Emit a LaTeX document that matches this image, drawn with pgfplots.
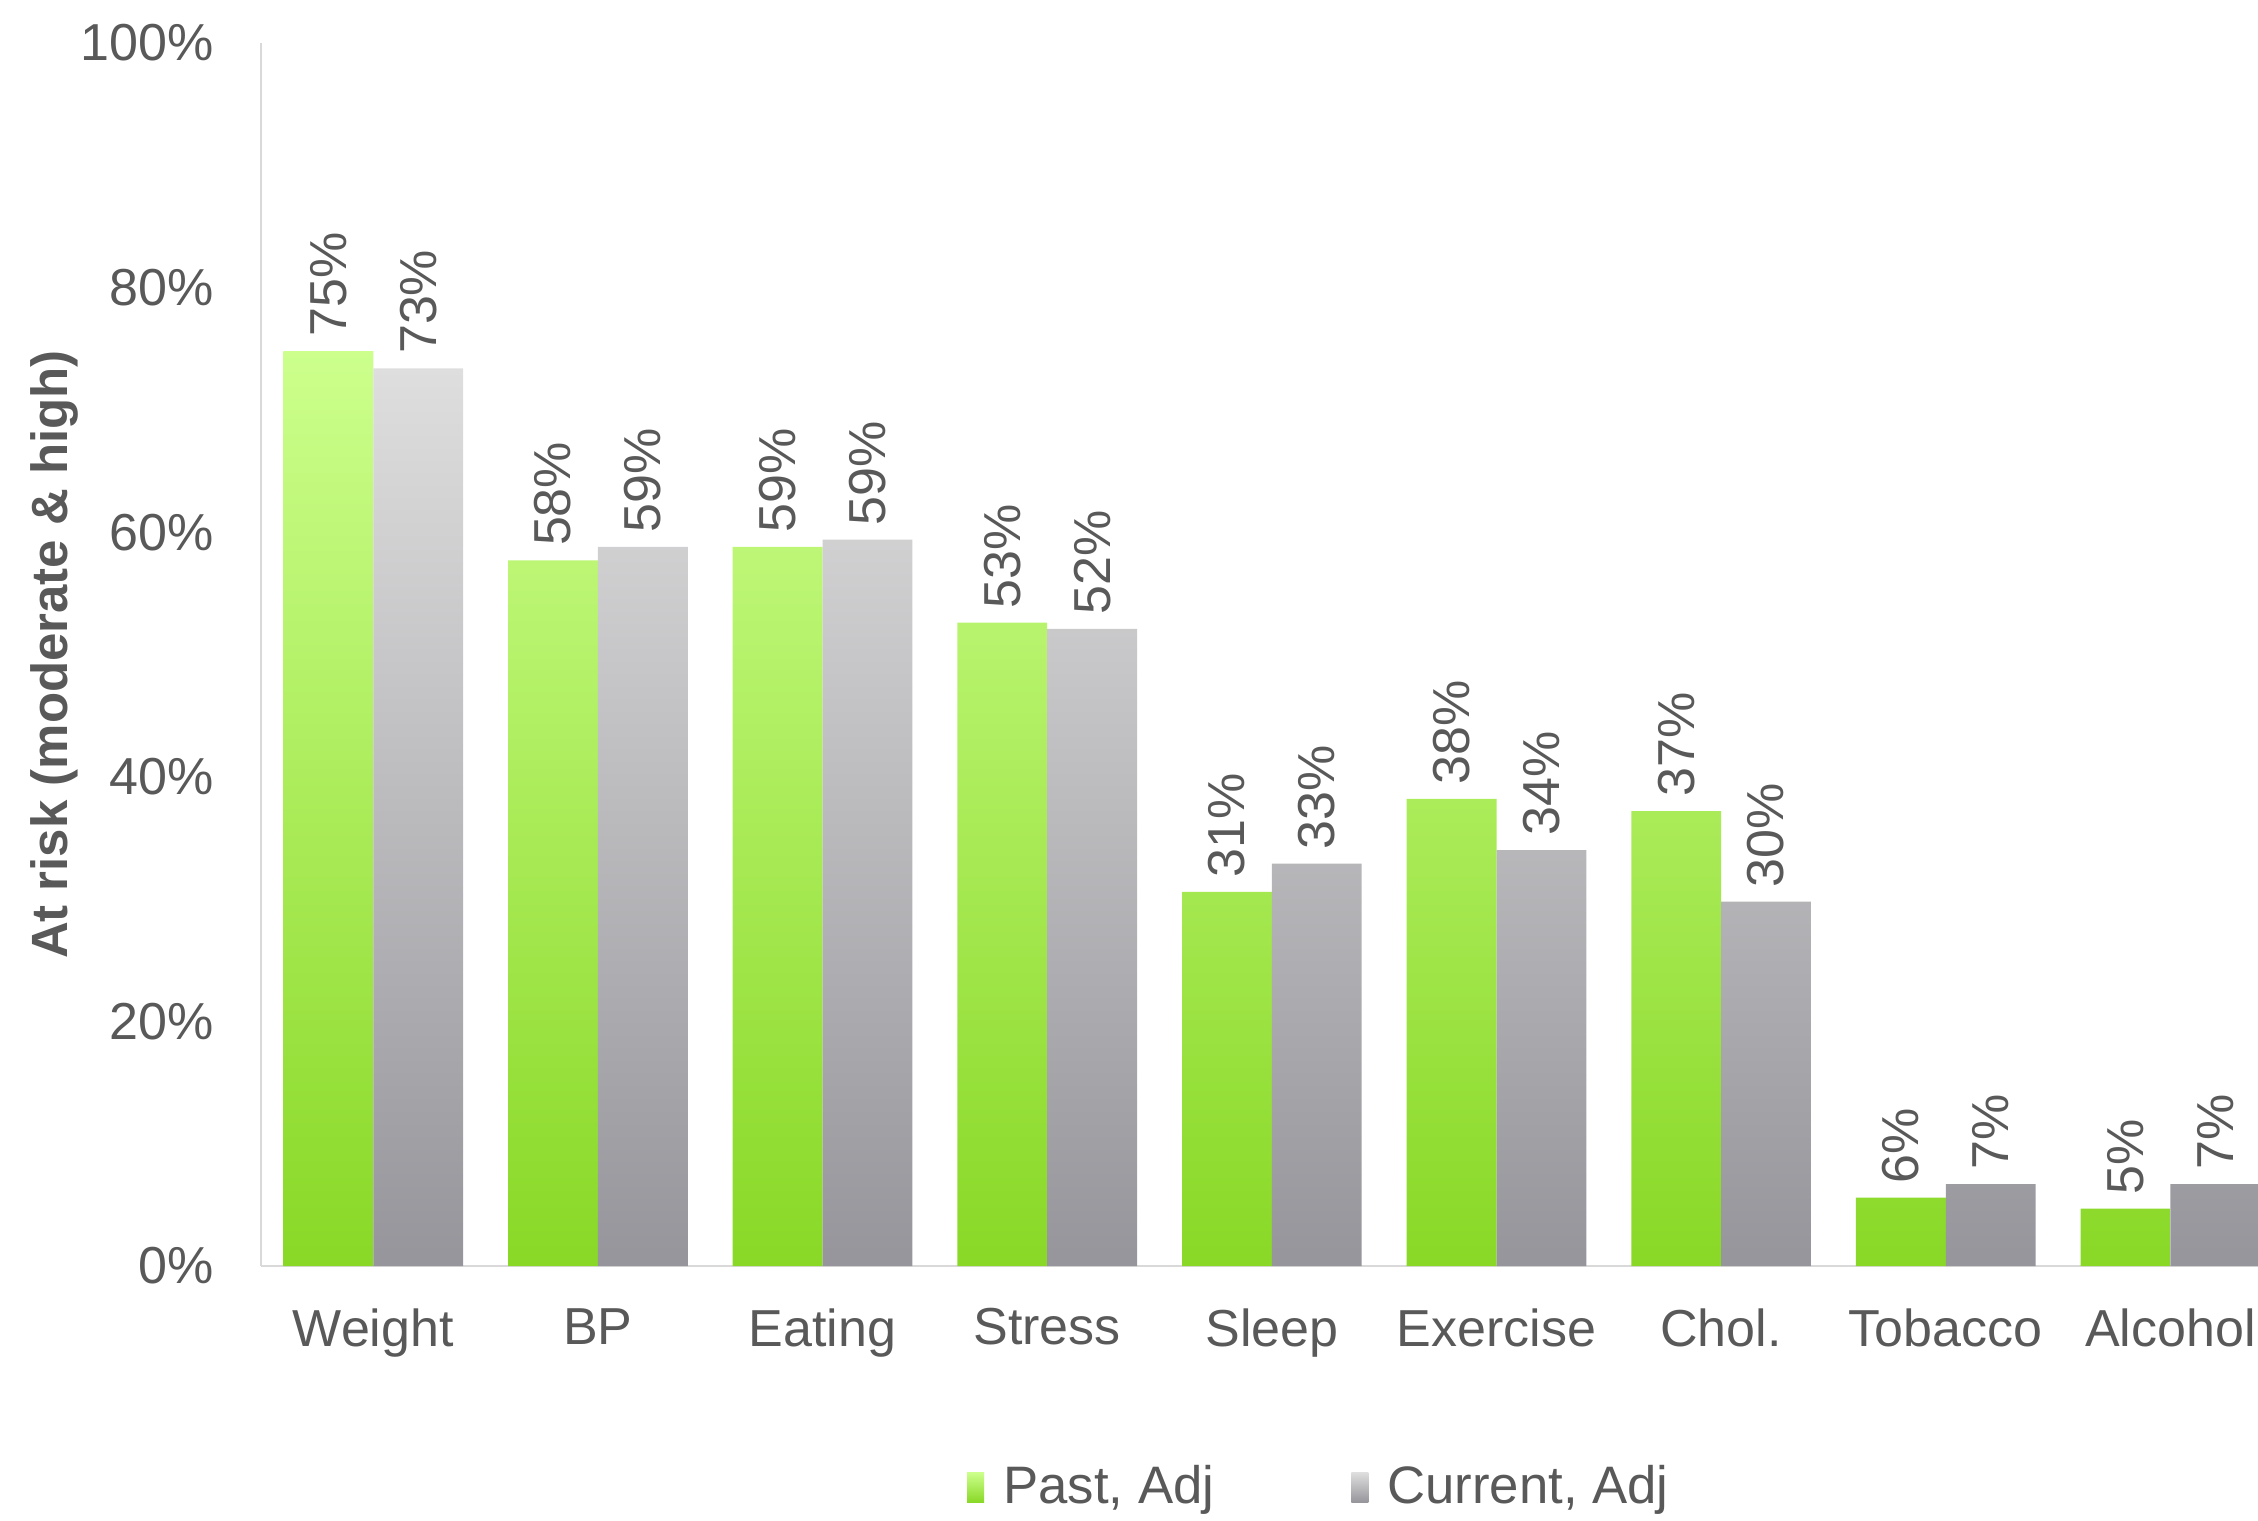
\documentclass[border=0pt]{standalone}
\usepackage{pgfplots}
\pgfplotsset{compat=1.18}
\usepackage{fontspec}
\setmainfont{Liberation Sans}
\definecolor{txt}{HTML}{595959}
\definecolor{gtop}{RGB}{204,255,140}
\definecolor{gbot}{RGB}{137,216,38}
\definecolor{stop}{RGB}{222,222,222}
\definecolor{sbot}{RGB}{150,149,155}
\definecolor{axl}{RGB}{217,217,217}
\begin{document}
\begin{tikzpicture}
\begin{axis}[name=ax, width=199.7mm, height=122.3mm, scale only axis,
  xmin=-0.5, xmax=8.39, ymin=0, ymax=100,
  axis lines*=left,
  axis line style={axl, line width=0.8pt},
  ytick={0,20,...,100},
  yticklabel={\pgfmathprintnumber{\tick}\%},
  xtick={0,...,8},
  xticklabels={Weight,BP,Eating,Stress,Sleep,Exercise,Chol.,Tobacco,Alcohol},
  major tick length=0pt,
  tick label style={font=\fontsize{14.8}{16}\selectfont, text=txt},
  yticklabel style={xshift=-3.5mm},
  xticklabel style={yshift=-3mm},
  /pgf/number format/assume math mode=true,
  ylabel={At risk (moderate \& high)},
  ylabel style={font=\bfseries\fontsize{14.5}{16}\selectfont, text=txt, yshift=-2.2mm},
  ybar,
  bar width=0.4,
  nodes near coords={\pgfmathprintnumber[fixed,precision=0]{\pgfplotspointmeta}\%},
  every node near coord/.append style={rotate=90, anchor=west, font=\fontsize{14.8}{16}\selectfont, text=txt, xshift=0.2mm},
  legend columns=2,
  legend style={draw=none, at={(0.531,-0.181)}, anchor=center, font=\fontsize{15}{17}\selectfont, text=txt,
    /tikz/every even column/.append style={column sep=13mm}},
]
\addplot[draw=none, bar shift=-0.2, top color=gtop, middle color=gtop!88!gbot, bottom color=gbot,
  legend image code/.code={\path[top color=gtop,bottom color=gbot] (0mm,-1.5mm) rectangle (1.7mm,1.5mm); \path (2.9mm,0);}]
  coordinates {(0,74.8) (1,57.7) (2,58.8) (3,52.6) (4,30.6) (5,38.2) (6,37.2) (7,5.6) (8,4.7)};
\addlegendentry{Past, Adj}
\addplot[draw=none, bar shift=0.2, top color=stop, middle color=stop!88!sbot, bottom color=sbot,
  legend image code/.code={\path[top color=stop,bottom color=sbot] (0mm,-1.5mm) rectangle (1.7mm,1.5mm); \path (2.9mm,0);}]
  coordinates {(0,73.4) (1,58.8) (2,59.4) (3,52.1) (4,32.9) (5,34.0) (6,29.8) (7,6.7) (8,6.7)};
\addlegendentry{Current, Adj}
\end{axis}
\pgfresetboundingbox
\path ([xshift=-26.1mm,yshift=-25.4mm]ax.south west) rectangle ([yshift=4.3mm]ax.north east);
\end{tikzpicture}
\end{document}
